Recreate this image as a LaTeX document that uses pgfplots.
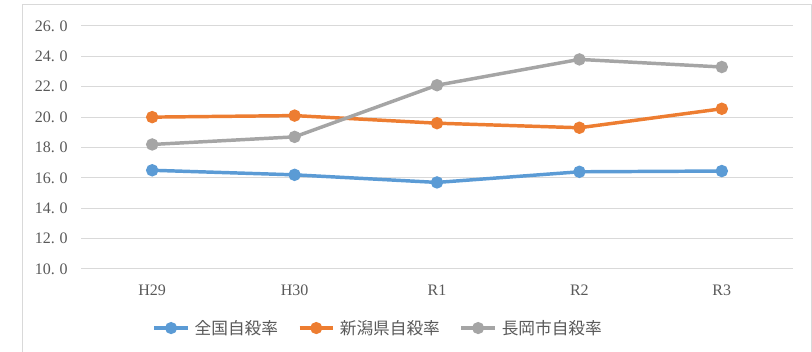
\documentclass[border=0pt]{standalone}
\usepackage{pgfplots}
\pgfplotsset{compat=1.18}
\usepackage{fontspec}
\setmainfont{Liberation Serif}
\newfontfamily\jp{Noto Sans CJK JP}

\definecolor{sblue}{HTML}{5B9BD5}
\definecolor{sorange}{HTML}{ED7D31}
\definecolor{sgray}{HTML}{A5A5A5}
\definecolor{gridc}{HTML}{D9D9D9}
\definecolor{labelc}{HTML}{595959}

\newcommand{\dz}[1]{#1.\hspace{0.3em}0}

\begin{document}
\begin{tikzpicture}
% page area and the chart frame (1px = 0.75pt)
\path[use as bounding box] (0,0) rectangle (609pt,264pt);
\begin{scope}
\clip (0,0) rectangle (609pt,264pt);
\draw[gridc, line width=0.75pt] (16.5pt,-10pt) -- (16.5pt,260.25pt) -- (608.25pt,260.25pt) -- (608.25pt,-10pt);
\end{scope}
\begin{axis}[
  at={(60.75pt,62.25pt)}, anchor=south west,
  scale only axis, width=534pt, height=182.25pt,
  xmin=-0.5, xmax=4.5, ymin=10, ymax=26,
  clip=false,
  axis line style={draw=none},
  major tick length=0pt,
  xtick={0,1,2,3,4},
  xticklabels={H29,H30,R1,R2,R3},
  ytick={10,12,14,16,18,20,22,24,26},
  yticklabels={\dz{10},\dz{12},\dz{14},\dz{16},\dz{18},\dz{20},\dz{22},\dz{24},\dz{26}},
  ymajorgrids,
  grid style={gridc, line width=0.75pt},
  tick label style={font=\fontsize{12pt}{14pt}\selectfont, text=labelc, inner sep=0pt},
  yticklabel style={anchor=east, xshift=-9.75pt},
  xticklabel style={anchor=center, yshift=-16.1pt},
  every axis plot/.append style={line width=2.6pt, mark=*, mark size=3.3pt},
  legend columns=3,
  legend style={at={(0.418,-0.243)}, anchor=center, draw=none, fill=none,
    font=\jp\fontsize{12.5pt}{14pt}\selectfont, text=labelc,
    /tikz/every odd column/.append style={column sep=2pt},
    /tikz/every even column/.append style={column sep=13pt}},
  legend image code/.code={\draw[mark repeat=2,mark phase=2,line width=2.4pt] plot coordinates {(0pt,0pt)(12.5pt,0pt)(25pt,0pt)};},
]
\addplot[sblue, mark options={solid, fill=sblue, draw=sblue}] coordinates {(0,16.5) (1,16.2) (2,15.7) (3,16.4) (4,16.45)};
\addlegendentry{全国自殺率}
\addplot[sorange, mark options={solid, fill=sorange, draw=sorange}] coordinates {(0,20.0) (1,20.1) (2,19.6) (3,19.3) (4,20.55)};
\addlegendentry{新潟県自殺率}
\addplot[sgray, mark options={solid, fill=sgray, draw=sgray}] coordinates {(0,18.2) (1,18.7) (2,22.1) (3,23.8) (4,23.3)};
\addlegendentry{長岡市自殺率}
\end{axis}
\end{tikzpicture}
\end{document}
